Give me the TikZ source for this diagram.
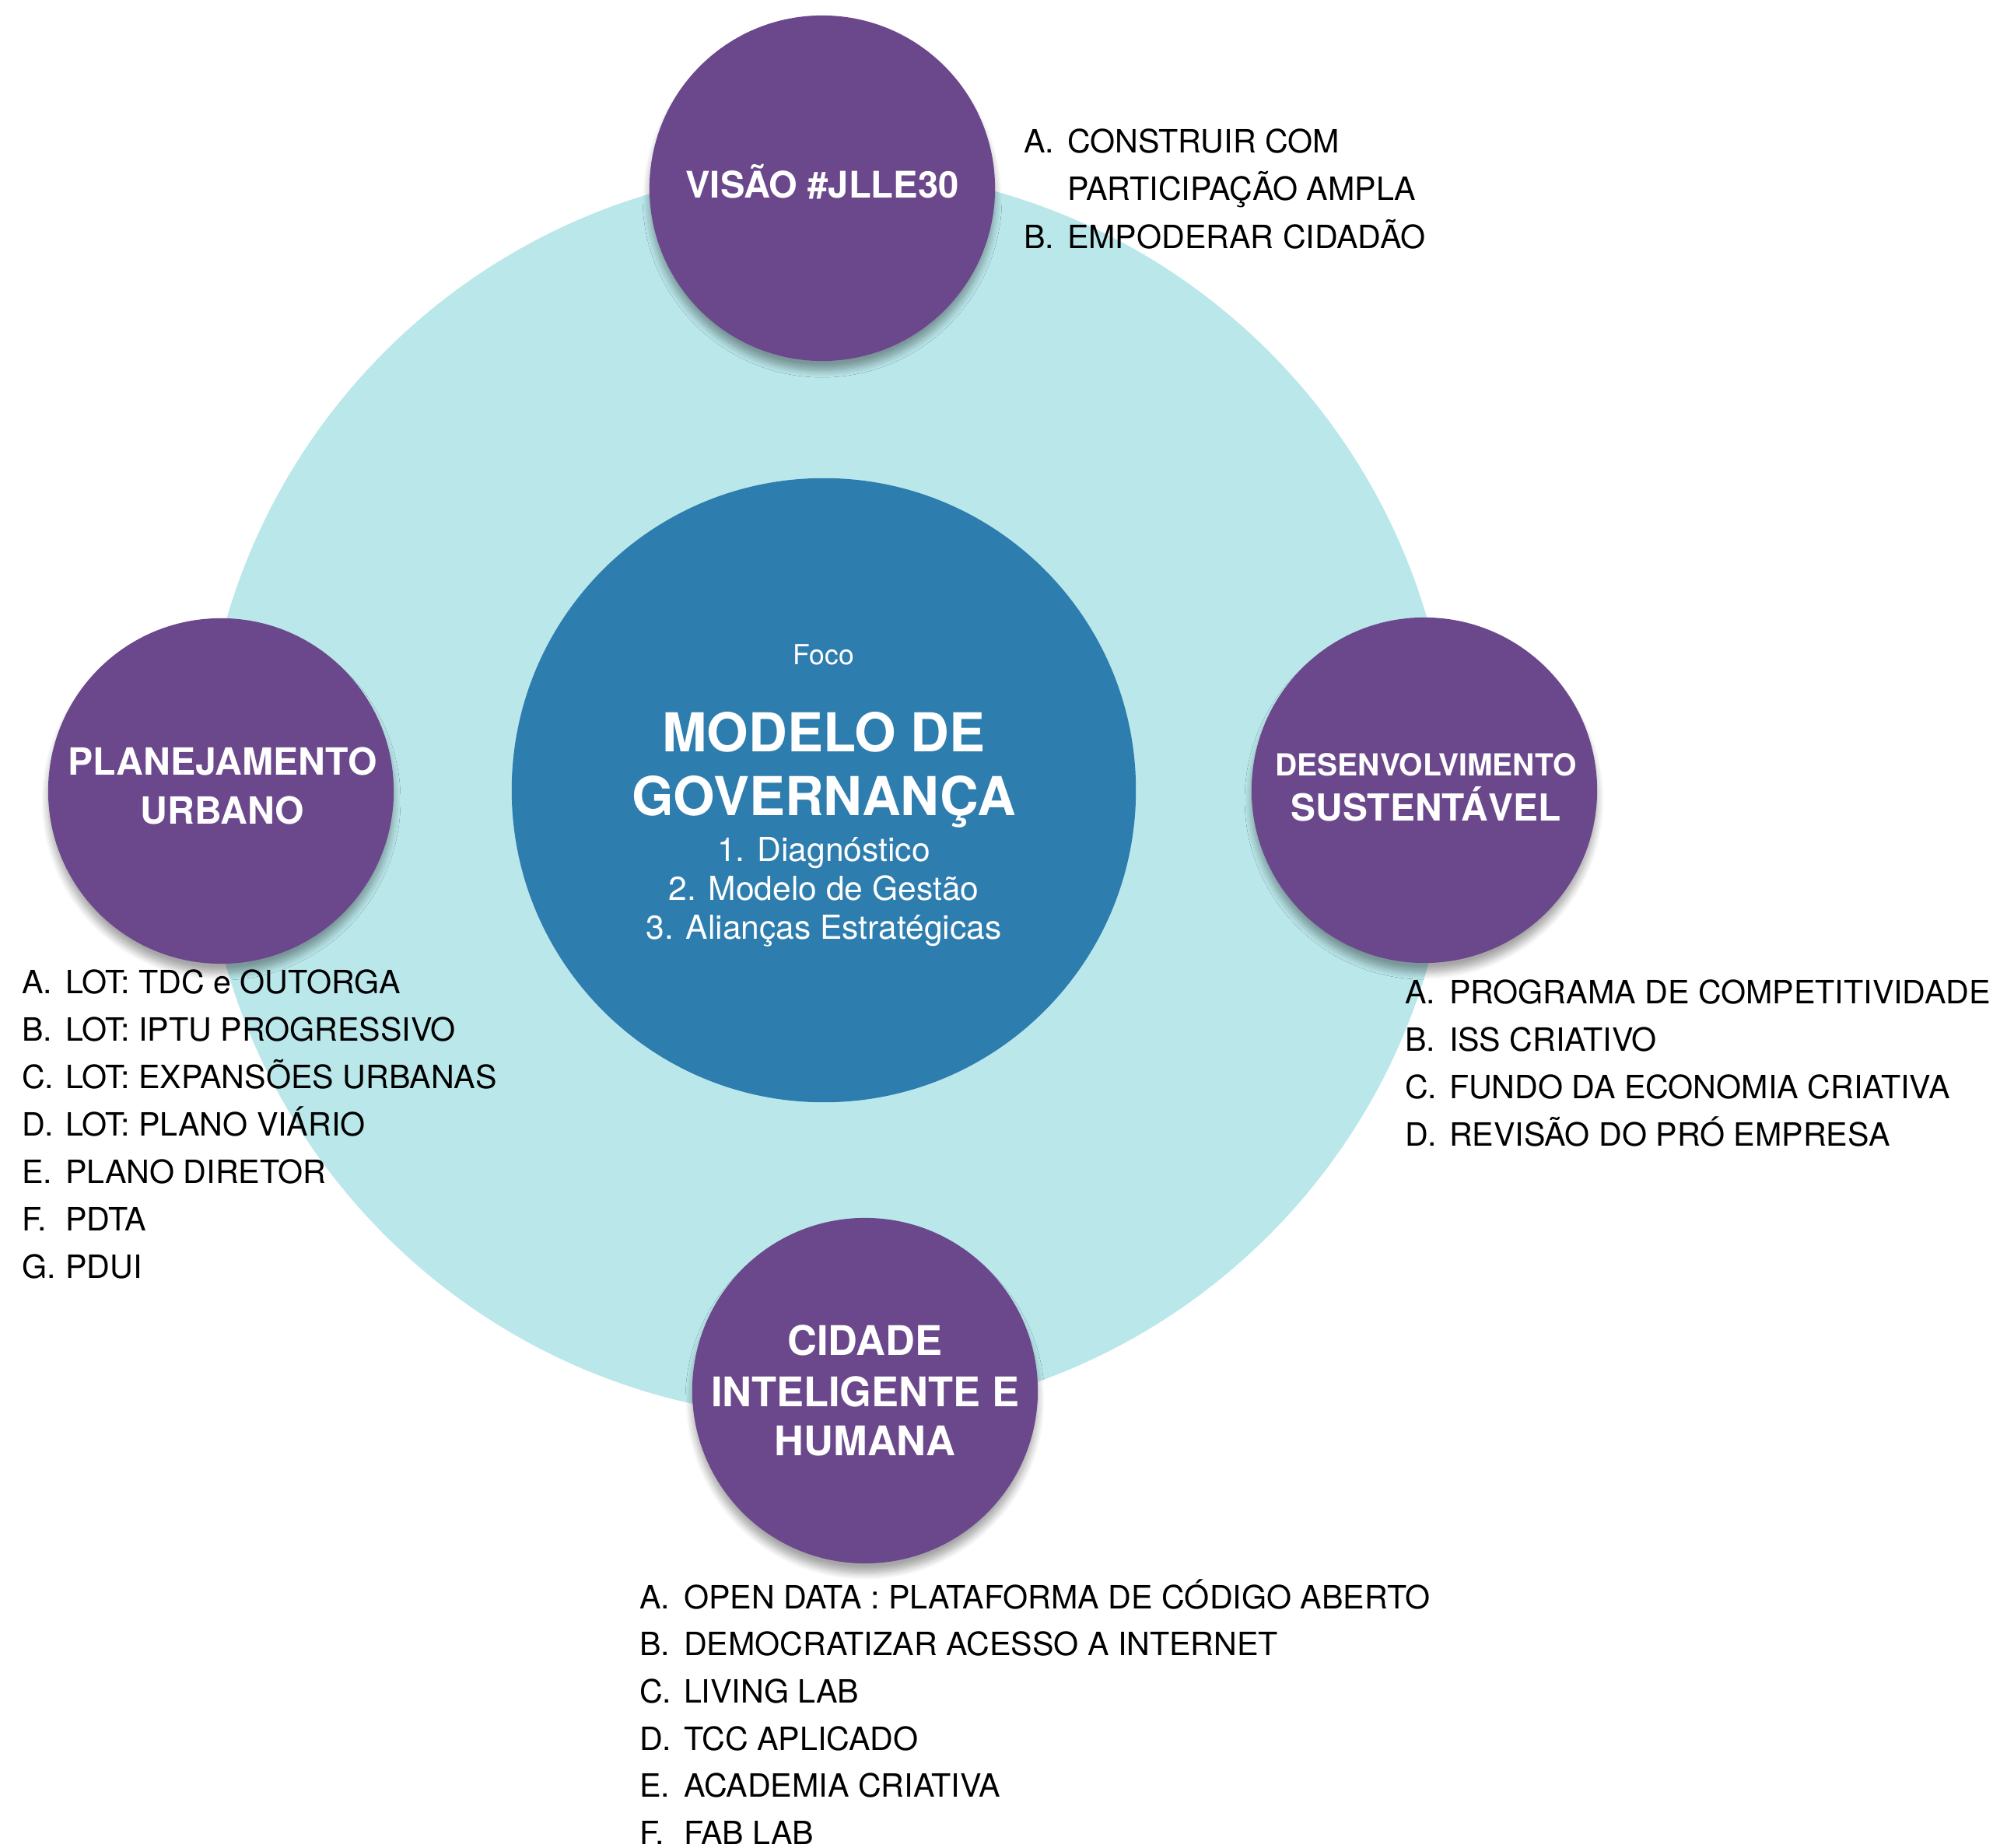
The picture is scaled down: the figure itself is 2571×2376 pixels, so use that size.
\documentclass[tikz,border=0pt]{standalone}
\usepackage{fontspec}
\setmainfont{TeX Gyre Heros}
\usetikzlibrary{shadows.blur}
\definecolor{cyanbg}{HTML}{BAE7EA}
\definecolor{bluec}{HTML}{2E7DAF}
\definecolor{purplec}{HTML}{6B488C}
\begin{document}
\begin{tikzpicture}[x=0.01cm,y=-0.01cm,
  every node/.style={inner sep=0pt, outer sep=0pt},
  bigc/.style={circle, fill=cyanbg, minimum size=16.06cm},
  focus/.style={circle, fill=bluec, minimum size=8.02cm},
  pillar/.style={circle, fill=purplec, minimum size=4.44cm,
    blur shadow={shadow xshift=0pt, shadow yshift=-3.5pt, shadow blur radius=2.5pt, shadow opacity=35, shadow blur steps=10}},
  ptitle/.style={anchor=base, text=white, font=\bfseries\fontsize{#1}{#1}\selectfont},
  ctext/.style={anchor=base, text=white, font=\fontsize{#1}{#1}\selectfont},
  itm/.style={anchor=base west, text=black, font=\fontsize{11.72}{14}\selectfont},
]
\useasboundingbox (0,0) rectangle (2571,2376);

% circles
\node[bigc] (ring) at (1063,1020) {};
\node[focus] (core) at (1059,1016) {};
\node[pillar] (vis) at (1057,242) {};
\node[pillar] (pla) at (284,1017) {};
\node[pillar] (des) at (1831,1016) {};
\node[pillar] (cid) at (1112,1788) {};

% central text
\node[ctext=10.1] (foco) at (1059,855) {Foco};
\node[ptitle=19.6] (mod1) at (1059,966) {MODELO DE};
\node[ptitle=19.6] (mod2) at (1059,1049) {GOVERNANÇA};
\node[ctext=12.1] (c1) at (1059,1107) {1. Diagnóstico};
\node[ctext=12.1] (c2) at (1059,1157) {2. Modelo de Gestão};
\node[ctext=12.1] (c3) at (1059,1207) {3. Alianças Estratégicas};

% pillar titles
\node[ptitle=13.4] (visT) at (1057,255) {VISÃO \#JLLE30};
\node[ptitle=13.7] (plaT1) at (286,997) {PLANEJAMENTO};
\node[ptitle=13.7] (plaT2) at (286,1060) {URBANO};
\node[ptitle=11.1] (desT1) at (1833,998) {DESENVOLVIMENTO};
\node[ptitle=13.6] (desT2) at (1833,1056) {SUSTENTÁVEL};
\node[ptitle=14.9] (cidT1) at (1112,1742) {CIDADE};
\node[ptitle=14.9] (cidT2) at (1112,1808) {INTELIGENTE E};
\node[ptitle=14.9] (cidT3) at (1112,1871) {HUMANA};

% lists
\node[itm] (v1) at (1316,197) {\makebox[0.56cm][l]{A.}CONSTRUIR COM};
\node[itm] (v2) at (1316,258) {\makebox[0.56cm][l]{}PARTICIPAÇÃO AMPLA};
\node[itm] (v3) at (1316,320) {\makebox[0.56cm][l]{B.}EMPODERAR CIDADÃO};

\foreach \lab/\txt [count=\i] in {A./LOT: TDC e OUTORGA, B./LOT: IPTU PROGRESSIVO,
  C./LOT: EXPANSÕES URBANAS, D./LOT: PLANO VIÁRIO, E./PLANO DIRETOR, F./PDTA, G./PDUI} {
  \node[itm] (p\i) at (28,{1277+61*(\i-1)}) {\makebox[0.56cm][l]{\lab}\txt};
}
\foreach \lab/\txt [count=\i] in {A./PROGRAMA DE COMPETITIVIDADE, B./ISS CRIATIVO,
  C./FUNDO DA ECONOMIA CRIATIVA, D./REVISÃO DO PRÓ EMPRESA} {
  \node[itm] (d\i) at (1806,{1290+61*(\i-1)}) {\makebox[0.57cm][l]{\lab}\txt};
}
\foreach \lab/\txt [count=\i] in {A./OPEN DATA : PLATAFORMA DE CÓDIGO ABERTO,
  B./DEMOCRATIZAR ACESSO A INTERNET, C./LIVING LAB, D./TCC APLICADO,
  E./ACADEMIA CRIATIVA, F./FAB LAB} {
  \node[itm] (h\i) at (822,{2068+60.7*(\i-1)}) {\makebox[0.57cm][l]{\lab}\txt};
}
\end{tikzpicture}
\end{document}
